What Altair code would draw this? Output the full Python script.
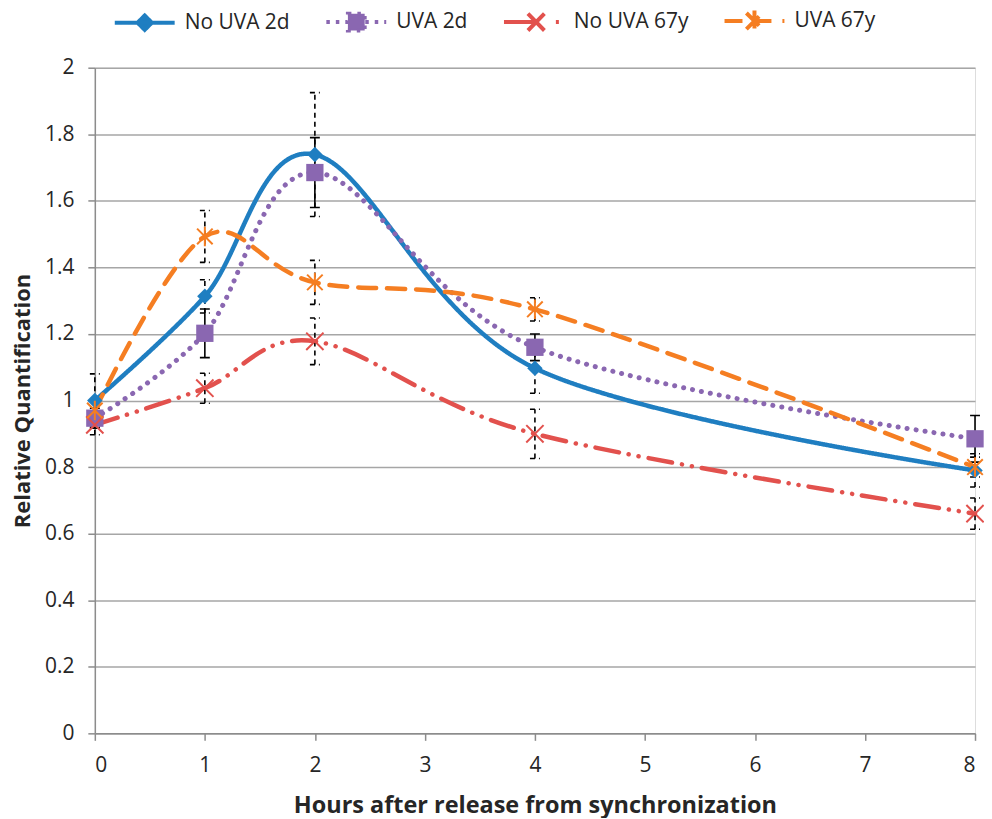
import altair as alt
import pandas as pd

hours = [0, 1, 2, 4, 8]
series = ["No UVA 2d", "UVA 2d", "No UVA 67y", "UVA 67y"]
no_uva_2d = [1.00, 1.313, 1.739, 1.097, 0.79]
uva_2d = [0.947, 1.202, 1.685, 1.160, 0.885]
no_uva_67y = [0.927, 1.037, 1.178, 0.900, 0.660]
uva_67y = [0.970, 1.493, 1.355, 1.274, 0.800]
err_no_uva_2d = [0.08, 0.05, 0.186, 0.075, 0.05]
err_uva_2d = [0.03, 0.073, 0.105, 0.04, 0.07]
err_no_uva_67y = [0.03, 0.045, 0.07, 0.074, 0.047]
err_uva_67y = [0.03, 0.078, 0.066, 0.035, 0.03]
y_ticks = [0, 0.2, 0.4, 0.6, 0.8, 1.0, 1.2, 1.4, 1.6, 1.8, 2.0]
x_ticks = [0, 1, 2, 3, 4, 5, 6, 7, 8]

colors = ["#1F7EC1", "#8A67B1", "#E2514D", "#F57E22"]
dashes = [[1, 0], [0.1, 9], [24, 10, 0.1, 10, 0.1, 10], [18, 11]]
legend_dashes = [[1, 0], [3.5, 6], [30, 22, 3, 20], [18, 11]]
err_dashed = [True, False, True, True]

values = [no_uva_2d, uva_2d, no_uva_67y, uva_67y]
errs = [err_no_uva_2d, err_uva_2d, err_no_uva_67y, err_uva_67y]

rows = []
for si, name in enumerate(series):
    for hi, h in enumerate(hours):
        v = values[si][hi]
        e = errs[si][hi]
        rows.append({
            "series": name, "hours": h, "value": v,
            "lo": v - e, "hi": v + e,
            "cap_l": h - 0.045, "cap_r": h + 0.045,
            "dashed": err_dashed[si], "order": si,
        })
df = pd.DataFrame(rows)

FONT = "Open Sans"
TXT = "#262626"
AX = "#8C8C8C"

x_enc = alt.X("hours:Q", scale=alt.Scale(domain=[0, 8], nice=False),
              axis=alt.Axis(values=x_ticks, format="d", grid=False,
                            title="Hours after release from synchronization",
                            titleFontSize=23.5, titleFontWeight="bold", titlePadding=18,
                            labelFontSize=21, labelPadding=14, tickSize=7,
                            domainColor=AX, tickColor=AX, domainWidth=1.5, tickWidth=1.5,
                            labelColor=TXT, titleColor=TXT))
y_enc = alt.Y("value:Q", scale=alt.Scale(domain=[0, 2], nice=False),
              axis=alt.Axis(values=y_ticks, format="~g", grid=True,
                            gridColor="#A6A6A6", gridWidth=1.5,
                            title="Relative Quantification",
                            titleFontSize=22, titleFontWeight="bold", titlePadding=10,
                            labelFontSize=21, labelPadding=14, tickSize=7,
                            domainColor=AX, tickColor=AX, domainWidth=1.5, tickWidth=1.5,
                            labelColor=TXT, titleColor=TXT))

base = alt.Chart(df)

line_layers = []
for si, name in enumerate(series):
    line_layers.append(
        base.transform_filter(alt.datum.series == name)
        .mark_line(interpolate="cardinal", color=colors[si],
                   strokeWidth=5 if si == 1 else 4.5, strokeCap="round",
                   strokeDash=dashes[si])
        .encode(x=x_enc, y=y_enc)
    )

err_layers = []
for flag, dash in [(True, [5, 4]), (False, [1, 0])]:
    sub = base.transform_filter(alt.datum.dashed == flag)
    err_layers.append(sub.mark_rule(color="black", strokeWidth=1.6, strokeDash=dash)
                      .encode(x="hours:Q", y="lo:Q", y2="hi:Q"))
    err_layers.append(sub.mark_rule(color="black", strokeWidth=1.6, strokeDash=dash)
                      .encode(x="cap_l:Q", x2="cap_r:Q", y="lo:Q"))
    err_layers.append(sub.mark_rule(color="black", strokeWidth=1.6, strokeDash=dash)
                      .encode(x="cap_l:Q", x2="cap_r:Q", y="hi:Q"))

x_path = "M-1,-1L1,1M-1,1L1,-1"
ast_path = "M-0.8,-0.8L0.8,0.8M-0.8,0.8L0.8,-0.8M0,-1L0,1"
marker_defs = [
    dict(shape="diamond", filled=True, size=240),
    dict(shape="square", filled=True, size=300),
    dict(shape=x_path, filled=False, size=300, strokeWidth=2),
    dict(shape=ast_path, filled=False, size=380, strokeWidth=2),
]
point_layers = []
for si, name in enumerate(series):
    point_layers.append(
        base.transform_filter(alt.datum.series == name)
        .mark_point(color=colors[si], opacity=1, **marker_defs[si])
        .encode(x="hours:Q", y="value:Q")
    )

legend_paths = [
    "M-1,0L1,0M0,-0.24L0.24,0L0,0.24L-0.24,0Z",
    "M-1,0L-0.3,0M0.3,0L1,0M-0.28,-0.28L0.28,-0.28L0.28,0.28L-0.28,0.28Z",
    "M-1,0L1,0M-0.2,-0.28L0.35,0.28M-0.2,0.28L0.35,-0.28",
    "M-1,0L1,0M-0.27,-0.27L0.27,0.27M-0.27,0.27L0.27,-0.27M0,-0.35L0,0.35",
]
legend = alt.Legend(
    title=None, orient="none", legendX=18, legendY=-79, direction="horizontal",
    columns=4, columnPadding=28, labelFont=FONT, labelFontSize=21, labelColor=TXT,
    labelOffset=8, labelLimit=300, symbolSize=3600, symbolStrokeWidth=4, symbolOpacity=1,
)
sort = series
legend_layer = base.mark_point(opacity=0, filled=False).encode(
    x="hours:Q", y="value:Q",
    color=alt.Color("series:N", sort=sort, scale=alt.Scale(domain=series, range=colors), legend=legend),
    fill=alt.Fill("series:N", sort=sort, scale=alt.Scale(domain=series, range=colors), legend=legend),
    shape=alt.Shape("series:N", sort=sort, scale=alt.Scale(domain=series, range=legend_paths), legend=legend),
    strokeDash=alt.StrokeDash("series:N", sort=sort, scale=alt.Scale(domain=series, range=legend_dashes), legend=legend),
)

chart = alt.layer(*line_layers, *err_layers, *point_layers, legend_layer).properties(
    width=882, height=667,
    autosize=alt.AutoSizeParams(type="none"),
    padding={"left": 87, "top": 59, "right": 9, "bottom": 84},
).configure_view(stroke=None).configure(font=FONT)

chart.save("out.html", embed_options={"renderer": "svg", "actions": False})
